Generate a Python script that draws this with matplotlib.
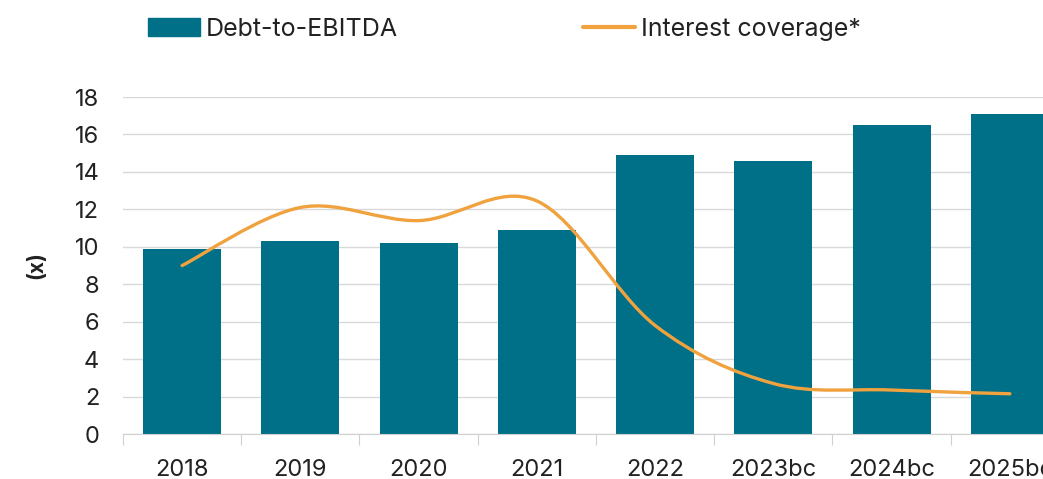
import matplotlib

matplotlib.use("Agg")
import matplotlib.pyplot as plt  # noqa: E402
import numpy as np  # noqa: E402
from matplotlib.lines import Line2D  # noqa: E402
from matplotlib.patches import Patch, PathPatch  # noqa: E402
from matplotlib.path import Path  # noqa: E402

years = ["2018", "2019", "2020", "2021", "2022", "2023bc", "2024bc", "2025bc"]
debt_to_ebitda = [9.9, 10.3, 10.2, 10.9, 14.9, 14.6, 16.5, 17.1]
interest_cov = [9.0, 12.1, 11.4, 12.45, 5.8, 2.7, 2.35, 2.15]

TEAL = "#006F88"
ORANGE = "#F0A23E"
TXT = "#222222"

plt.rcParams.update({"font.family": ["Inter", "DejaVu Sans"], "font.size": 17})

fig = plt.figure(figsize=(10.43, 4.79), dpi=100)
ax = fig.add_axes([0.1179, 0.0939, 0.907, 0.7035])

x = np.arange(len(years))
ax.bar(x, debt_to_ebitda, width=0.66, color=TEAL, zorder=2)


def smooth_path(xs, ys):
    # Excel-like smoothed line: cubic Bezier through the points
    pts = np.column_stack([xs, ys]).astype(float)
    ext = np.vstack([pts[0], pts, pts[-1]])
    verts, codes = [pts[0]], [Path.MOVETO]
    for i in range(len(pts) - 1):
        p0, p1, p2, p3 = ext[i], ext[i + 1], ext[i + 2], ext[i + 3]
        verts += [p1 + (p2 - p0) / 6, p2 - (p3 - p1) / 6, p2]
        codes += [Path.CURVE4] * 3
    return Path(verts, codes)


ax.add_patch(PathPatch(smooth_path(x, interest_cov), fill=False, edgecolor=ORANGE,
                       lw=2.4, capstyle="round", zorder=3))

ax.set_xlim(-0.5, len(years) - 0.5)
ax.set_ylim(0, 18)
ax.set_yticks(range(0, 19, 2))
ax.yaxis.grid(True, color="#d9d9d9", lw=1)
ax.set_axisbelow(True)
for s in ["top", "right", "left"]:
    ax.spines[s].set_visible(False)
ax.spines["bottom"].set_color("#d0d0d0")
ax.tick_params(axis="y", length=0, pad=17, colors=TXT)

ax.set_xticks(np.arange(-0.5, len(years)), minor=False)
ax.set_xticklabels([])
ax.set_xticks(x, minor=True)
ax.set_xticklabels(years, minor=True)
ax.tick_params(axis="x", which="major", length=8, color="#d0d0d0", direction="out")
ax.tick_params(axis="x", which="minor", length=0, pad=18, colors=TXT)

ax.set_ylabel("(x)", fontweight="bold", fontsize=15, color=TXT, labelpad=20)

handles = [Patch(color=TEAL, label="Debt-to-EBITDA"),
           Line2D([], [], color=ORANGE, lw=3, solid_capstyle="round", label="Interest coverage*")]
fig.legend(handles=handles, loc="upper left", bbox_to_anchor=(0.12, 1.01), ncol=2,
           frameon=False, fontsize=18, handlelength=2.08, handletextpad=0.24,
           columnspacing=7.4, labelcolor=TXT)

fig.savefig("out.png", dpi=100, facecolor="white")
